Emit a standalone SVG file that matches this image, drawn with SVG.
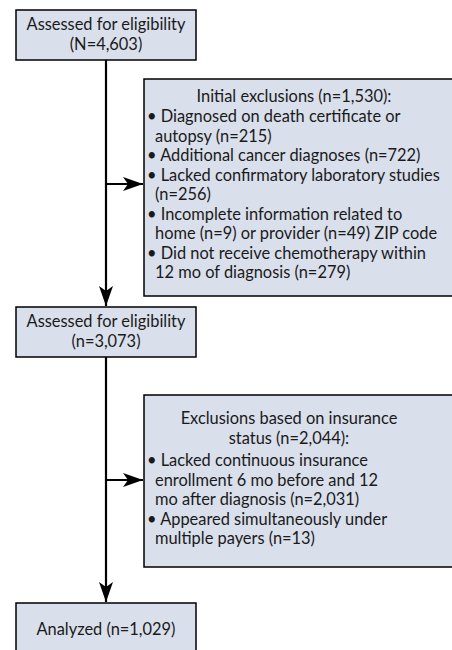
<svg xmlns="http://www.w3.org/2000/svg" width="452" height="650" viewBox="0 0 452 650">
<defs>
<style>
.box{fill:#d9dfeb;stroke:#000;stroke-width:1.5}
text{font-family:Lato,"Open Sans",sans-serif;font-size:16.4px;fill:#1a1a1a}
.c{text-anchor:middle}
.ln{stroke:#000;stroke-width:2.2;fill:none}
</style>
<marker id="ah" markerUnits="userSpaceOnUse" markerWidth="22" markerHeight="14" refX="20" refY="7" orient="auto">
<path d="M0,0 L20,7 L0,14 L5,7 Z" fill="#000"/>
</marker>
</defs>
<rect width="452" height="650" fill="#fff"/>
<g id="connectors">
<line class="ln" x1="106" y1="60" x2="106" y2="306" marker-end="url(#ah)"/>
<line class="ln" x1="106" y1="357" x2="106" y2="602" marker-end="url(#ah)"/>
<line class="ln" x1="106" y1="184" x2="143" y2="184" marker-end="url(#ah)"/>
<line class="ln" x1="106" y1="480" x2="143" y2="480" marker-end="url(#ah)"/>
</g>
<g id="n1">
<rect class="box" x="16" y="10" width="180" height="50"/>
<text class="c" x="106" y="30">Assessed for eligibility</text>
<text class="c" x="106" y="50">(N=4,603)</text>
</g>
<g id="n2">
<rect class="box" x="144" y="79" width="310" height="217"/>
<text class="c" x="294" y="102">Initial exclusions (n=1,530):</text>
<text x="147" y="122">• Diagnosed on death certificate or</text>
<text x="155" y="141.5">autopsy (n=215)</text>
<text x="147" y="161">• Additional cancer diagnoses (n=722)</text>
<text x="147" y="180.5">• Lacked confirmatory laboratory studies</text>
<text x="155" y="200">(n=256)</text>
<text x="147" y="219.5">• Incomplete information related to</text>
<text x="155" y="239">home (n=9) or provider (n=49) ZIP code</text>
<text x="147" y="258.5">• Did not receive chemotherapy within</text>
<text x="155" y="278">12 mo of diagnosis (n=279)</text>
</g>
<g id="n3">
<rect class="box" x="16" y="307" width="180" height="50"/>
<text class="c" x="106" y="327">Assessed for eligibility</text>
<text class="c" x="106" y="347">(n=3,073)</text>
</g>
<g id="n4">
<rect class="box" x="144" y="395" width="310" height="172"/>
<text class="c" x="289" y="424">Exclusions based on insurance</text>
<text class="c" x="289" y="443.5">status (n=2,044):</text>
<text x="147" y="466">• Lacked continuous insurance</text>
<text x="155" y="485.5">enrollment 6 mo before and 12</text>
<text x="155" y="505">mo after diagnosis (n=2,031)</text>
<text x="147" y="524.5">• Appeared simultaneously under</text>
<text x="155" y="544">multiple payers (n=13)</text>
</g>
<g id="n5">
<rect class="box" x="16" y="603" width="180" height="60"/>
<text class="c" x="106" y="635">Analyzed (n=1,029)</text>
</g>
</svg>
